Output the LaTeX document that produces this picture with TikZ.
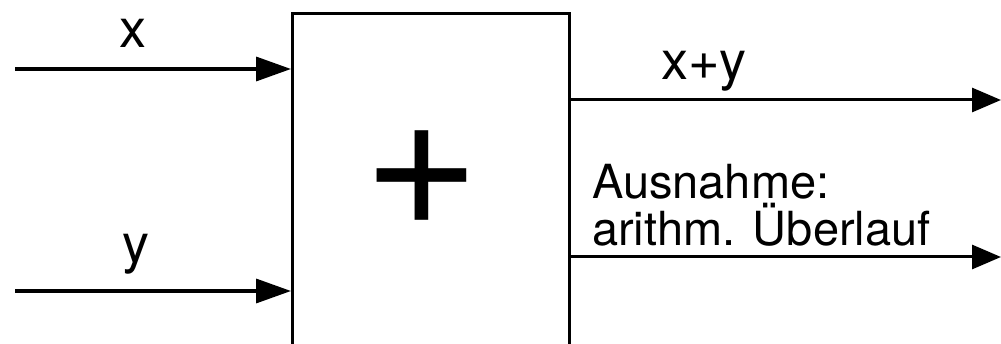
\documentclass[tikz,border=0pt]{standalone}
\usepackage{fontspec}
\setmainfont{TeX Gyre Heros}
\usetikzlibrary{arrows.meta}
\tikzset{
  signal/.style={line width=3.5pt, -{Triangle[length=35pt, width=24pt]}},
  out signal/.style={line width=3pt, -{Triangle[length=29pt, width=24pt]}},
  adder block/.style={draw, line width=3.4pt, rectangle, minimum width=277pt, minimum height=420pt, inner sep=0pt},
  big label/.style={inner sep=0pt, font=\fontsize{54}{54}\selectfont},
}
\begin{document}
\begin{tikzpicture}[x=1pt, y=-1pt]
  \useasboundingbox (0,0) rectangle (1001,344);
  \clip (0,0) rectangle (1001,344);
  \node[adder block, anchor=north west] (add) at (291,12) {};
  \node[inner sep=0pt, font=\fontsize{200}{200}\selectfont] (plus) at (422,178.5) {+};
  \coordinate (x in) at (15,69);
  \coordinate (y in) at (15,291);
  \coordinate (sum out) at (1001,100);
  \coordinate (ovf out) at (1001,257);
  \draw[signal] (x in) -- (x in -| add.west);
  \draw[signal] (y in) -- (y in -| add.west);
  \draw[out signal] (sum out -| add.east) -- (sum out);
  \draw[out signal] (ovf out -| add.east) -- (ovf out);
  \node[big label, anchor=base] (x lbl) at (133,48) {x};
  \node[big label, anchor=base] (y lbl) at (136,263) {y};
  \node[big label, anchor=base] (sum lbl) at (704,80) {x+y};
  \node[inner sep=0pt, align=left, anchor=base west, font=\fontsize{47}{47}\selectfont] (ovf lbl) at (592,246) {Ausnahme:\\arithm. Überlauf};
\end{tikzpicture}
\end{document}
